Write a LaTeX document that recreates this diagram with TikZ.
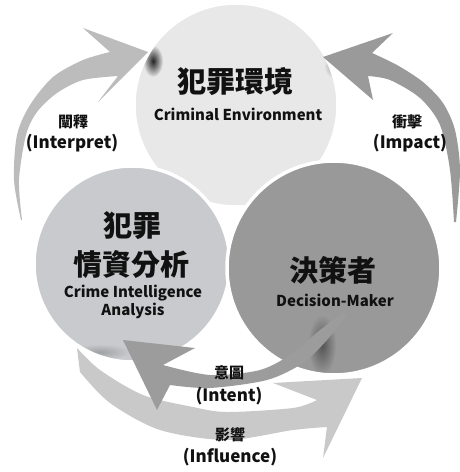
\documentclass[tikz,border=0pt]{standalone}
\usepackage{fontspec}
\setmainfont{Noto Sans CJK TC}
\usetikzlibrary{fadings}
\tikzfading[name=softfade, inner color=transparent!0, outer color=transparent!100]
\definecolor{envc}{HTML}{E8E8E8}
\definecolor{anac}{HTML}{C8CACD}
\definecolor{decc}{HTML}{999999}
\definecolor{intpc}{HTML}{BCBCBC}
\definecolor{impc}{HTML}{9A9A9A}
\definecolor{itnc}{HTML}{9C9C9C}
\definecolor{inflc}{HTML}{C9C9C9}
\definecolor{txtc}{HTML}{111111}
\begin{document}
\begin{tikzpicture}[x=1pt,y=-1pt,
  blob/.style={circle, draw=white, line width=3.5pt, inner sep=0pt},
  title/.style={font=\bfseries\fontsize{29}{33}\selectfont, text=txtc, inner sep=0pt},
  sub/.style={font=\bfseries\fontsize{15}{17}\selectfont, text=txtc, inner sep=0pt},
  lab/.style={font=\bfseries\fontsize{17}{19}\selectfont, text=txtc, inner sep=0pt},
  labcjk/.style={font=\bfseries\fontsize{15}{17}\selectfont, text=txtc, inner sep=0pt},
  fuzz/.style={fill=black, path fading=softfade}]
\useasboundingbox (0,0) rectangle (460,472);

% Influence arrow (behind circles)
\fill[inflc] plot[smooth] coordinates {(77,348) (100,370) (143,395) (193,407) (227,412) (293,408) (317,400)}
  -- (273,383) -- (362,378) -- (323,458)
  -- plot[smooth] coordinates {(327,427) (293,430) (227,440) (160,430) (110,403) (80,372)} -- cycle;

% Circles
\node[blob, fill=envc, minimum size=204pt] (env) at (236,105) {};
\node[blob, fill=anac, minimum size=196pt] (ana) at (132,264) {};
\node[blob, fill=decc, minimum size=214pt] (dec) at (334,268) {};

% soft shadows on circles (kept inside each circle)
\begin{scope}
  \clip (236,105) circle [radius=100pt];
  \fill[fuzz, opacity=0.85] (153,61) ellipse [x radius=10pt, y radius=16pt];
  \fill[fuzz, opacity=0.35] (334,66) ellipse [x radius=10pt, y radius=12pt];
\end{scope}
\begin{scope}
  \clip (334,268) circle [radius=105pt];
  \fill[fuzz, opacity=0.45] (322,345) ellipse [x radius=14pt, y radius=30pt];
\end{scope}
\begin{scope}
  \clip (132,264) circle [radius=96pt];
  \fill[fuzz, opacity=0.55] (186,356) ellipse [x radius=16pt, y radius=8pt];
  \fill[fuzz, opacity=0.2] (100,352) ellipse [x radius=30pt, y radius=8pt];
\end{scope}

% Interpret arrow
\fill[intpc] plot[smooth] coordinates {(21,220) (14,180) (17,135) (30,105) (53,77) (83,60) (110,52)}
  -- (83,28) -- (148,52) -- (98,102)
  -- plot[smooth] coordinates {(118,76) (83,80) (57,93) (37,112) (26,135) (19,180) (22,220)} -- cycle;

% Impact arrow
\fill[impc] plot[smooth] coordinates {(456,222) (460,170) (455,130) (443,103) (423,82) (397,65) (372,53)}
  -- (393,33) -- (323,57) -- (373,100)
  -- plot[smooth] coordinates {(368,76) (390,80) (420,98) (440,125) (450,170) (454,222)} -- cycle;

% Intent arrow
\fill[itnc] plot[smooth] coordinates {(344,312) (320,330) (293,353) (260,370) (210,375) (163,365)}
  -- (195,348) -- (123,340) -- (157,410)
  -- plot[smooth] coordinates {(170,385) (210,388) (267,380) (303,363) (327,340) (346,316)} -- cycle;

% Texts
\node[title] (envt) at (235,82) {犯罪環境};
\node[sub] (envs) at (238,114) {Criminal Environment};
\node[title] (anat1) at (132,226) {犯罪};
\node[title] (anat2) at (132,264) {情資分析};
\node[sub] (anas1) at (133,293) {Crime Intelligence};
\node[sub] (anas2) at (133,311) {Analysis};
\node[title] (dect) at (333,270) {決策者};
\node[sub] (decs) at (335,300) {Decision-Maker};

\node[labcjk] (l1a) at (73,122) {闡釋};
\node[lab] (l1b) at (72,143) {(Interpret)};
\node[labcjk] (l2a) at (407,122) {衝擊};
\node[lab] (l2b) at (410,143) {(Impact)};
\node[labcjk] (l3a) at (229,373) {意圖};
\node[lab] (l3b) at (229,396) {(Intent)};
\node[labcjk] (l4a) at (230,435) {影響};
\node[lab] (l4b) at (230,457) {(Influence)};
\end{tikzpicture}
\end{document}
